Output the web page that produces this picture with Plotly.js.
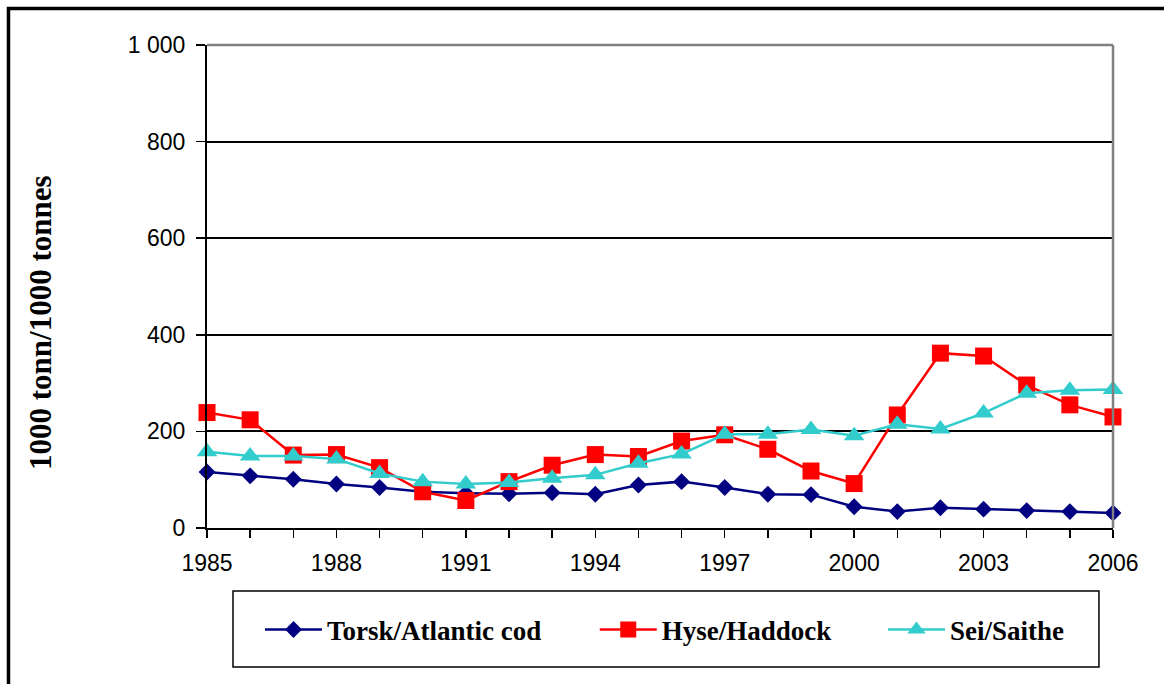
<!DOCTYPE html>
<html>
<head>
<meta charset="utf-8">
<script src="https://cdn.plot.ly/plotly-3.0.1.min.js"></script>
<style>html,body{margin:0;padding:0;background:#fff;}#chart{width:1164px;height:684px;}</style>
</head>
<body>
<div id="chart"></div>
<script>
var years = [1985,1986,1987,1988,1989,1990,1991,1992,1993,1994,1995,1996,1997,1998,1999,2000,2001,2002,2003,2004,2005,2006];
var codValues     = [116,108,101,91,84,75,72,71,73,70,89,96,84,70,69,44,34,42,39,36,34,31];
var haddockValues = [239,224,151,152,125,75,57,96,130,152,148,180,193,163,118,92,234,362,356,296,255,230];
var saitheValues  = [158,149,149,143,113,96,91,94,103,110,134,153,194,194,204,191,215,205,238,279,285,287];
var xLabelYears = [1985,1988,1991,1994,1997,2000,2003,2006];
var yTickValues = [0,200,400,600,800,1000];
var yTickLabels = ["0","200","400","600","800","1 000"];
var seriesNames = ["Torsk/Atlantic cod","Hyse/Haddock","Sei/Saithe"];
var yTitle = "1000 tonn/1000 tonnes";

var serif = "Liberation Serif, Times New Roman, serif";
var sans = "Liberation Sans, Arial, sans-serif";

var traces = [
  {x: years, y: codValues, name: seriesNames[0], type: 'scatter', mode: 'lines+markers', cliponaxis: false,
   line: {color: '#000080', width: 2.5}, marker: {symbol: 'diamond', size: 13, color: '#000080'}, legend: 'legend'},
  {x: years, y: haddockValues, name: seriesNames[1], type: 'scatter', mode: 'lines+markers', cliponaxis: false,
   line: {color: '#FF0000', width: 2.5}, marker: {symbol: 'square', size: 17, color: '#FF0000'}, legend: 'legend2'},
  {x: years, y: saitheValues, name: seriesNames[2], type: 'scatter', mode: 'lines+markers', cliponaxis: false,
   line: {color: '#33CCCC', width: 2.5}, marker: {symbol: 'triangle-up', size: 18, color: '#33CCCC'}, legend: 'legend3'}
];

var legendBase = {orientation: 'h', yanchor: 'middle', xanchor: 'left', y: -0.2112,
  bgcolor: 'rgba(0,0,0,0)', borderwidth: 0, itemwidth: 57,
  font: {family: serif, size: 27, color: '#000', weight: 'bold'}};

var layout = {
  width: 1164, height: 684,
  margin: {l: 207, r: 51, t: 45, b: 156},
  paper_bgcolor: '#fff', plot_bgcolor: '#fff',
  showlegend: true,
  legend: Object.assign({}, legendBase, {x: 0.0585}),
  legend2: Object.assign({}, legendBase, {x: 0.428}),
  legend3: Object.assign({}, legendBase, {x: 0.7461}),
  xaxis: {
    range: [1985, 2006], tickvals: xLabelYears, ticktext: xLabelYears.map(String),
    ticks: 'outside', ticklen: 8, tickwidth: 1.5, tickcolor: '#000',
    minor: {tickvals: years, ticks: 'outside', ticklen: 8, tickwidth: 1.5, tickcolor: '#000', showgrid: false},
    showline: true, linecolor: '#000', linewidth: 2, showgrid: false, zeroline: false,
    tickfont: {family: sans, size: 23, color: '#000'}, ticklabelstandoff: 5
  },
  yaxis: {
    range: [0, 1000], tickvals: yTickValues, ticktext: yTickLabels,
    ticks: 'outside', ticklen: 9, tickwidth: 1.5, tickcolor: '#000',
    showline: true, linecolor: '#000', linewidth: 2,
    showgrid: true, gridcolor: '#000', gridwidth: 2, zeroline: false,
    tickfont: {family: sans, size: 23, color: '#000'}, ticklabelstandoff: 6
  },
  annotations: [
    {text: '<b>' + yTitle + '</b>', xref: 'paper', yref: 'paper', x: -0.1843, y: 0.4244,
     xanchor: 'center', yanchor: 'middle', textangle: -90, showarrow: false,
     font: {family: serif, size: 31, color: '#000'}}
  ],
  shapes: [
    {type: 'line', xref: 'paper', yref: 'paper', x0: 0, x1: 1, y0: 1, y1: 1, line: {color: '#808080', width: 2.5}, layer: 'above'},
    {type: 'line', xref: 'paper', yref: 'paper', x0: 1, x1: 1, y0: 0, y1: 1, line: {color: '#808080', width: 2.5}, layer: 'above'},
    {type: 'rect', xref: 'paper', yref: 'paper', x0: 0.0287, x1: 0.9845, y0: -0.2878, y1: -0.1304, line: {color: '#000', width: 1.5}},
    {type: 'rect', xref: 'paper', yref: 'paper', x0: -0.2191, x1: 1.08, y0: -0.4, y1: 1.0756, line: {color: '#000', width: 3.5}}
  ]
};

Plotly.newPlot('chart', traces, layout, {displayModeBar: false, staticPlot: true});
</script>
</body>
</html>
